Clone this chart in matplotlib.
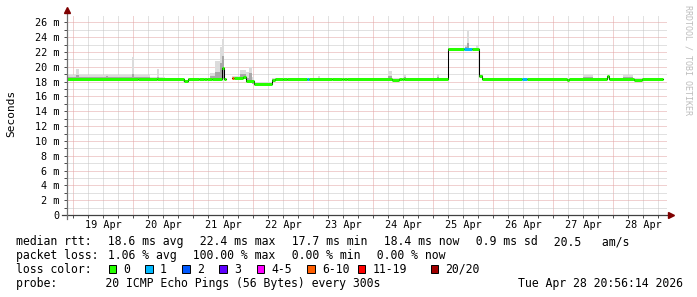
import numpy as np
import matplotlib
matplotlib.use('Agg')
import matplotlib.pyplot as plt
from matplotlib.patches import Rectangle

W, H = 697, 297
MONO = 'DejaVu Sans Mono'
plt.rcParams['font.family'] = MONO

# time axis: hours after 19 Apr 00:00, median rtt in ms (step values)
med_hours = [-2.64, 25.9, 33.5, 44.3, 45.9, 50.3, 52.3, 53.5, 55.5, 59.5, 60.3, 61.1,
             63.5, 67.9, 69.3, 72.3, 79.5, 80.7, 83.9, 85.5, 103.4, 107.4, 108.3, 109.5,
             127.4, 130.4, 131.4, 132.3, 150.0, 162.3, 163.7, 197.5, 198.3, 213.4, 214.3,
             224.3, 227.5]
med_ms = [18.4, 18.3, 18.4, 18.05, 18.4, 18.3, 18.4, 18.3, 18.4, 19.8, 18.4, np.nan,
          18.45, 18.6, 18.05, 17.75, 18.2, 18.4, 18.3, 18.4, 18.3, 18.4, 18.3, 18.4,
          18.25, 18.4, 18.3, 18.4, 22.45, 18.8, 18.4, 18.2, 18.4, 18.7, 18.4,
          18.2, 18.4]
med_end = 236.0

# lost pings (out of 20) per step
loss_hours = [-2.64, 63.5, 64.3, 93.4, 94.3, 156.3, 159.5, 179.6, 181.4]
loss_pings = [0, 8, 0, 1, 0, 1, 0, 1, 0]

# smoke: spread of the 20 pings
smoke_hours = [-2.64, 1.1, 2.3, 13.1, 13.9, 23.5, 24.5, 30.7, 33.5, 34.3, 36.7, 43.9,
               45.9, 54.7, 56.7, 58.7, 59.5, 60.3, 61.1, 63.5, 66.7, 69.3, 70.3, 71.5,
               72.3, 79.5, 97.9, 98.7, 125.8, 127.4, 132.3, 133.1, 145.5, 146.3, 150.0,
               156.7, 157.5, 158.3, 161.1, 161.9, 162.3, 163.9, 203.9, 207.9, 219.9, 223.9]
smoke_min = [18.3, 18.3, 18.3, 18.3, 18.3, 18.3, 18.3, 18.2, 18.2, 18.3, 18.3, 17.9,
             18.3, 18.3, 18.3, 18.3, 18.3, 18.3, np.nan, 18.35, 18.4, 17.9, 17.9, 17.7,
             17.6, 18.1, 18.3, 18.3, 18.2, 18.2, 18.3, 18.3, 18.3, 18.3, 22.35,
             22.35, 22.35, 22.35, 22.35, 22.35, 18.7, 18.3, 18.3, 18.3, 18.2, 18.3]
smoke_mid = [18.6, 18.9, 18.6, 18.7, 18.6, 19.0, 18.6, 18.45, 18.6, 18.45, 18.4, 18.0,
             18.4, 18.7, 19.3, 20.5, 21.5, 19.0, np.nan, 18.55, 19.0, 18.5, 19.2, 18.2,
             17.85, 18.3, 18.5, 18.4, 18.8, 18.4, 18.6, 18.4, 18.6, 18.4, 22.5,
             22.7, 23.2, 22.5, 22.6, 22.5, 18.9, 18.4, 18.6, 18.4, 18.6, 18.4]
smoke_max = [18.9, 19.7, 18.9, 19.05, 18.9, 21.3, 18.9, 18.65, 19.7, 18.6, 18.5, 18.2,
             18.5, 19.2, 20.8, 22.7, 23.7, 19.9, np.nan, 18.8, 19.6, 19.3, 20.0, 18.6,
             18.0, 18.5, 18.75, 18.55, 19.5, 18.55, 18.95, 18.55, 19.0, 18.55, 22.6,
             23.0, 24.8, 22.6, 22.9, 22.6, 19.1, 18.5, 18.85, 18.55, 18.95, 18.5]

day_labels = ['19 Apr', '20 Apr', '21 Apr', '22 Apr', '23 Apr',
              '24 Apr', '25 Apr', '26 Apr', '27 Apr', '28 Apr']

loss_names = ['0', '1', '2', '3', '4-5', '6-10', '11-19', '20/20']
loss_upper = [0, 1, 2, 3, 5, 10, 19, 20]
loss_colors = ['#26ff00', '#00b8ff', '#0059ff', '#5e00ff', '#ff00ff', '#ff5e00', '#ff0000', '#a00000']

rtt_items = ['median rtt:', '  18.6 ms avg', '  22.4 ms max', '  17.7 ms min',
             '  18.4 ms now', '  0.9 ms sd', '  20.5   am/s']
loss_items = ['packet loss:', ' 1.06 % avg', '  100.00 % max', '  0.00 % min', '  0.00 % now']
probe_text = 'probe:       20 ICMP Echo Pings (56 Bytes) every 300s'
stamp_text = 'Tue Apr 28 20:56:14 2026'


def loss_color(n):
    for up, col in zip(loss_upper, loss_colors):
        if n <= up:
            return col
    return loss_colors[-1]


def ftext(x, y, s, **kw):
    # place text by pixel position measured from the top left corner
    kw.setdefault('fontsize', 8.3)
    kw.setdefault('va', 'center')
    fig.text(x / W, 1 - y / H, s, family=MONO, **kw)


fig = plt.figure(figsize=(W / 100, H / 100), dpi=100)
fig.patch.set_facecolor('white')
ax = fig.add_axes([66.5 / W, 82 / H, 600 / W, 200 / H])
ax.set_xlim(-2.64, 237.36)
ax.set_ylim(0, 27)

# grid: 6 h / 1 ms minor, 1 day / 2 ms major
ax.set_xticks(np.arange(0, 237, 24))
ax.set_xticks(np.arange(-0, 237, 6), minor=True)
ax.set_yticks(np.arange(0, 27, 2))
ax.set_yticks(np.arange(1, 26, 2), minor=True)
ax.set_xticklabels([])
ax.set_yticklabels(['0' if v == 0 else '%d m' % v for v in range(0, 27, 2)])
ax.grid(which='major', color='#e3a3a3', linestyle=(0, (1, 1)), linewidth=0.72)
ax.grid(which='minor', color='#c4c4c4', linestyle=(0, (1, 1)), linewidth=0.72)
ax.set_axisbelow(True)
ax.tick_params(axis='both', which='both', direction='out', length=2, width=0.72,
               color='#505050')
ax.tick_params(axis='y', labelsize=7.3, pad=3)
for s in ax.spines.values():
    s.set_visible(False)

# smoke
sh = smoke_hours + [med_end]
lo = np.array(smoke_min + [smoke_min[-1]])
mid = np.array(smoke_mid + [smoke_mid[-1]])
hi = np.array(smoke_max + [smoke_max[-1]])
ok = ~np.isnan(hi)
ax.fill_between(sh, lo, hi, where=ok, step='post', color='#dcdcdc', lw=0, zorder=1.5)
ax.fill_between(sh, lo, mid, where=ok, step='post', color='#a8a8a8', lw=0, zorder=1.6)

# median: thin black connecting line, then loss-coloured thick steps
ax.step(med_hours + [med_end], med_ms + [med_ms[-1]], where='post',
        color='black', lw=0.75, zorder=2)
edges = sorted(set(med_hours + loss_hours + [med_end]))
for a, b in zip(edges[:-1], edges[1:]):
    v = med_ms[np.searchsorted(med_hours, a, side='right') - 1]
    n = loss_pings[np.searchsorted(loss_hours, a, side='right') - 1]
    if np.isnan(v):
        continue
    ax.hlines(v, a, b, color=loss_color(n), lw=2.16, zorder=3)

# day labels at noon
for i, lab in enumerate(day_labels):
    ax.text(12 + 24 * i, -9.5 / 200, lab, transform=ax.get_xaxis_transform(),
            ha='center', va='center', fontsize=7.3, family=MONO)

# axes with arrows
def ax_px(x, y):
    return (x - 66.5) / 600, (215 - y) / 200

x0, y0 = ax_px(62, 215)
x1, _ = ax_px(669, 215)
ax.plot([x0, x1], [y0, y0], transform=ax.transAxes, color='#404040', lw=0.9,
        clip_on=False, zorder=4)
xa, ya = ax_px(67, 219)
_, yb = ax_px(67, 12)
ax.plot([xa, xa], [ya, yb], transform=ax.transAxes, color='#707070', lw=0.9,
        clip_on=False, zorder=4)
ax.plot(*ax_px(670.5, 215), marker='>', ms=4, color='#7f0000', mec='#7f0000',
        transform=ax.transAxes, clip_on=False, zorder=5)
ax.plot(*ax_px(67, 10.5), marker='^', ms=4, color='#7f0000', mec='#7f0000',
        transform=ax.transAxes, clip_on=False, zorder=5)

ftext(10.8, 113.5, 'Seconds', rotation=90, ha='center', fontsize=8)
ftext(688, 5, 'RRDTOOL / TOBI OETIKER', rotation=270, ha='center', va='top',
      fontsize=6, color='#bdbdbd')

# legend rows
cw, gap = 6.95, 1.5
x = 16.5
for item in rtt_items:
    ftext(x, 241.7, item)
    x += len(item) * cw + gap
x = 16.5
for item in loss_items:
    ftext(x, 255.7, item)
    x += len(item) * cw + gap

ftext(16.5, 269.3, 'loss color:')
box_x = [108.7, 145.3, 182.3, 219.3, 256.7, 307.3, 357.7, 430.7]
for bx, name, col in zip(box_x, loss_names, loss_colors):
    fig.patches.append(Rectangle((bx / W, 1 - 272.8 / H), 7.4 / W, 7.4 / H,
                                 transform=fig.transFigure, facecolor=col,
                                 edgecolor='black', lw=0.7))
    ftext(bx + 14.6, 269.3, name)

ftext(16.5, 283, probe_text)
ftext(682.5, 283, stamp_text, ha='right')

fig.savefig('out.png', dpi=100, facecolor='white')
